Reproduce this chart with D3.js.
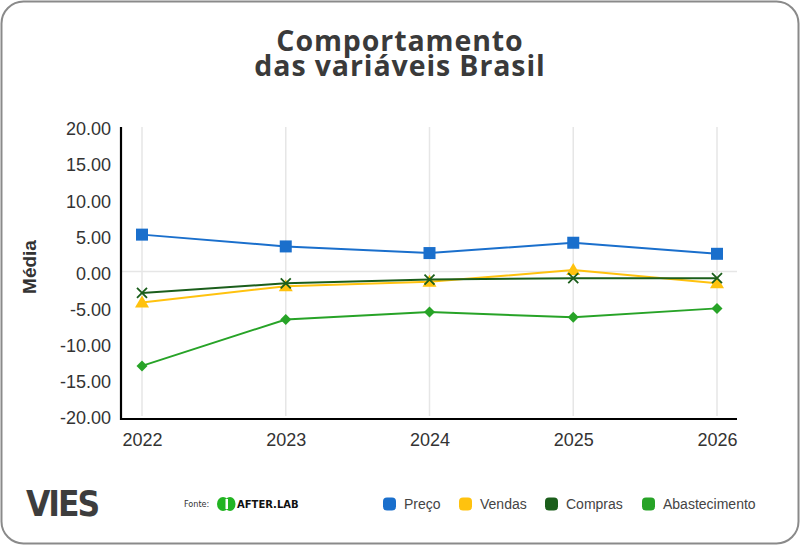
<!DOCTYPE html>
<html>
<head>
<meta charset="utf-8">
<script src="https://cdn.jsdelivr.net/npm/d3@7"></script>
<style>
	body { margin: 0; background: #fff; }
	svg { display: block; }
</style>
</head>
<body>
<main></main>
<script>

// DATA
const years = ["2022", "2023", "2024", "2025", "2026"];
const preco = [5.0, 3.4, 2.5, 3.9, 2.4];
const vendas = [-4.2, -2.0, -1.4, 0.2, -1.6];
const compras = [-2.9, -1.6, -1.1, -0.9, -0.9];
const abastecimento = [-12.8, -6.5, -5.5, -6.2, -5.0];
const yTicks = [20, 15, 10, 5, 0, -5, -10, -15, -20];
const titleLines = ["Comportamento", "das variáveis Brasil"];

const series = [
	{ name: "Preço", values: preco, color: "#1a6fcc", marker: "square" },
	{ name: "Vendas", values: vendas, color: "#ffc20e", marker: "triangle" },
	{ name: "Compras", values: compras, color: "#1b5e1b", marker: "cross" },
	{ name: "Abastecimento", values: abastecimento, color: "#27a327", marker: "diamond" }
];


// CHART
function drawChart() {
	const w = 800;
	const h = 545;
	const left = 121, right = 737, top = 127, bottom = 419;

	const svg = d3.select("main").append("svg")
		.attr("width", w)
		.attr("height", h);

	// frame
	svg.append("rect")
		.attr("x", 1.5).attr("y", 1.5)
		.attr("width", w - 3).attr("height", h - 3)
		.attr("rx", 22)
		.attr("fill", "#fff")
		.attr("stroke", "#8a8a8a")
		.attr("stroke-width", 2);

	// title
	svg.append("g").selectAll("text")
		.data(titleLines)
		.enter().append("text")
			.attr("x", 400)
			.attr("y", (d, i) => 51 + i * 25)
			.attr("text-anchor", "middle")
			.style("font-family", "'Open Sans', sans-serif")
			.style("font-weight", "bold")
			.style("font-size", "28.5px")
			.style("letter-spacing", "0.9px")
			.attr("fill", "#3a3a3a")
			.text(d => d);

	// scales
	const xScale = d3.scalePoint()
		.domain(years)
		.range([left + 21, right - 20]);
	const yScale = d3.scaleLinear()
		.domain([-20, 20])
		.range([bottom, top - 3]);
	// labels sit slightly inside the plotting range
	const yLabelScale = d3.scaleLinear()
		.domain([-20, 20])
		.range([bottom - 1, top + 2]);

	// grid
	svg.append("g").selectAll("line")
		.data(years)
		.enter().append("line")
			.attr("x1", d => xScale(d)).attr("x2", d => xScale(d))
			.attr("y1", top).attr("y2", bottom - 3)
			.attr("stroke", "#e6e6e6")
			.attr("stroke-width", 1.5);
	svg.append("line")
		.attr("x1", left).attr("x2", right)
		.attr("y1", yScale(0)).attr("y2", yScale(0))
		.attr("stroke", "#e6e6e6")
		.attr("stroke-width", 1.5);

	// y axis labels
	const fmt = d3.format(".2f");
	const yAxis = d3.axisLeft(yLabelScale)
		.tickValues(yTicks)
		.tickSize(0)
		.tickPadding(10)
		.tickFormat(d => fmt(d).replace("\u2212", "-"));
	const gy = svg.append("g")
		.attr("transform", `translate(${left}, 0)`)
		.call(yAxis);
	gy.select(".domain").remove();
	gy.selectAll("text")
		.style("font-family", "'Liberation Sans', Arial, sans-serif")
		.style("font-size", "18px")
		.attr("fill", "#333");

	// x axis labels
	const xAxis = d3.axisBottom(xScale).tickSize(0).tickPadding(14);
	const gx = svg.append("g")
		.attr("transform", `translate(0, ${bottom})`)
		.call(xAxis);
	gx.select(".domain").remove();
	gx.selectAll("text")
		.style("font-family", "'Liberation Sans', Arial, sans-serif")
		.style("font-size", "18px")
		.attr("fill", "#333");

	// axis lines
	svg.append("path")
		.attr("d", `M${left},${top} V${bottom} H${right}`)
		.attr("fill", "none")
		.attr("stroke", "#000")
		.attr("stroke-width", 2.2);

	// y title
	svg.append("text")
		.attr("transform", `translate(36, 267) rotate(-90)`)
		.attr("text-anchor", "middle")
		.style("font-family", "'Liberation Sans', Arial, sans-serif")
		.style("font-weight", "bold")
		.style("font-size", "19px")
		.attr("fill", "#333")
		.text("Média");

	// lines
	const line = d3.line()
		.x((d, i) => xScale(years[i]))
		.y(d => yScale(d));

	series.forEach(s => {
		const g = svg.append("g");
		g.append("path")
			.datum(s.values)
			.attr("d", line)
			.attr("fill", "none")
			.attr("stroke", s.color)
			.attr("stroke-width", 2);

		const pts = g.selectAll("g.pt")
			.data(s.values)
			.enter().append("g")
				.attr("transform", (d, i) => `translate(${xScale(years[i])}, ${yScale(d)})`);
		if (s.marker === "square") {
			pts.append("rect")
				.attr("x", -6).attr("y", -6).attr("width", 12).attr("height", 12)
				.attr("fill", s.color);
		} else if (s.marker === "triangle") {
			pts.append("path")
				.attr("d", "M0,-7 L7,5 L-7,5 Z")
				.attr("fill", s.color);
		} else if (s.marker === "diamond") {
			pts.append("path")
				.attr("d", "M0,-5.5 L5.5,0 L0,5.5 L-5.5,0 Z")
				.attr("fill", s.color);
		} else {
			pts.append("path")
				.attr("d", "M-5,-5 L5,5 M-5,5 L5,-5")
				.attr("stroke", s.color)
				.attr("stroke-width", 1.8);
		}
	});

	// legend
	const legendX = [383, 459, 545, 642];
	const legend = svg.append("g").selectAll("g")
		.data(series)
		.enter().append("g")
			.attr("transform", (d, i) => `translate(${legendX[i]}, 504)`);
	legend.append("rect")
		.attr("x", 0).attr("y", -6.5)
		.attr("width", 13).attr("height", 13)
		.attr("rx", 4)
		.attr("fill", d => d.color);
	legend.append("text")
		.attr("x", 21).attr("y", 5)
		.style("font-family", "'Liberation Sans', Arial, sans-serif")
		.style("font-size", "14px")
		.attr("fill", "#444")
		.text(d => d.name);

	// VIES logo
	svg.append("text")
		.attr("x", 26).attr("y", 516)
		.style("font-family", "'DejaVu Sans Condensed', 'DejaVu Sans', sans-serif")
		.style("font-weight", "bold")
		.style("font-size", "35px")
		.style("letter-spacing", "-2px")
		.attr("fill", "#3d3d3d")
		.text("VIES");

	// fonte
	svg.append("text")
		.attr("x", 184).attr("y", 507)
		.style("font-family", "'DejaVu Sans Condensed', sans-serif")
		.style("font-size", "9px")
		.attr("fill", "#333")
		.text("Fonte:");
	const afg = svg.append("g").attr("transform", "translate(217, 504)");
	afg.append("ellipse")
		.attr("cx", 6).attr("cy", 0).attr("rx", 6).attr("ry", 7)
		.attr("fill", "#22b422");
	afg.append("ellipse")
		.attr("cx", 13).attr("cy", 0).attr("rx", 5.5).attr("ry", 7)
		.attr("fill", "#22b422");
	afg.append("rect")
		.attr("x", 8.5).attr("y", -5).attr("width", 2.5).attr("height", 10)
		.attr("fill", "#fff");
	svg.append("text")
		.attr("x", 237).attr("y", 508)
		.style("font-family", "'DejaVu Sans', sans-serif")
		.style("font-weight", "bold")
		.style("font-size", "10px")
		.attr("fill", "#111")
		.text("AFTER.LAB");
}


// MAIN
document.addEventListener("DOMContentLoaded", () => {
	drawChart();
});
</script>
</body>
</html>
